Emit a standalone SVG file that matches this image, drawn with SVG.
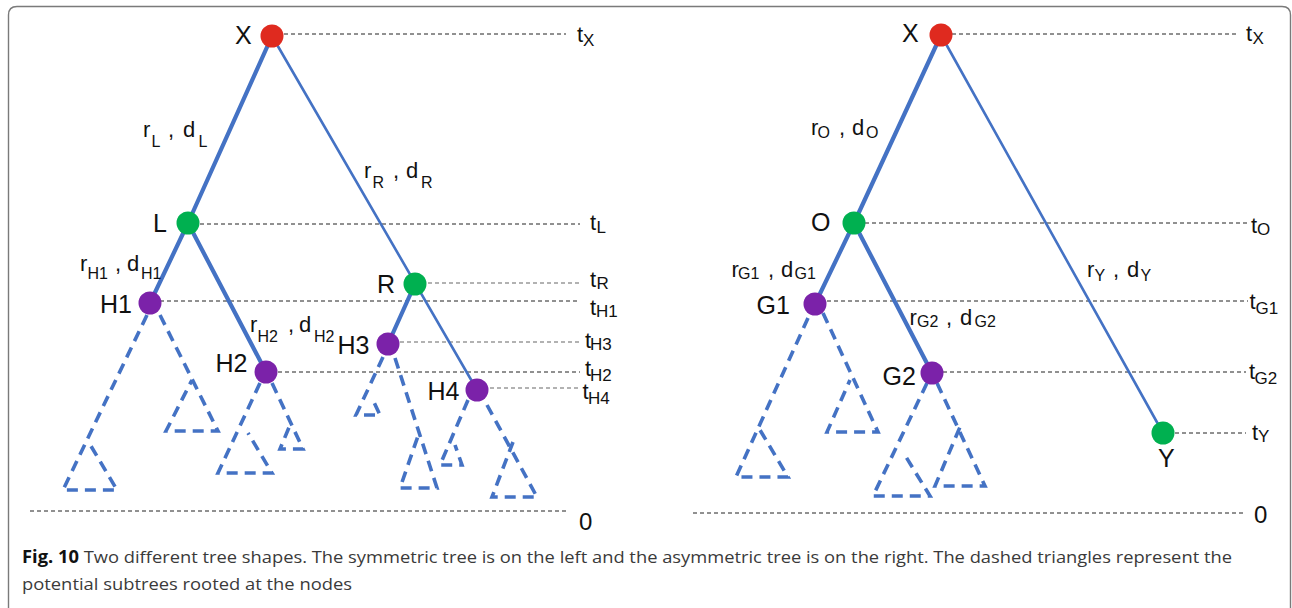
<svg xmlns="http://www.w3.org/2000/svg" width="1292" height="608" viewBox="0 0 1292 608">
<style>
.frame{fill:none;stroke:#7a7a7a;stroke-width:1.4}
.guide{fill:none;stroke:#222;stroke-width:1;stroke-dasharray:4 3}
.guide2{fill:none;stroke:#666;stroke-width:1.2;stroke-dasharray:4 3}
.thick{stroke:#4472C4;stroke-width:4.2;fill:none;stroke-linecap:round}
.thin{stroke:#4472C4;stroke-width:2.6;fill:none;stroke-linecap:round}
.tri{stroke:#4472C4;stroke-width:3.6;fill:none;stroke-dasharray:11 7}
.red{fill:#DF2A1F}
.green{fill:#00B050}
.purple{fill:#7B22A9}
.n{font-family:"Liberation Sans",Arial,sans-serif;font-size:25px;fill:#111}
.e{font-family:"Liberation Sans",Arial,sans-serif;font-size:22px;fill:#111}
.s{font-size:16px}
.t{font-family:"Liberation Sans",Arial,sans-serif;font-size:22px;fill:#111}
.ts{font-size:17px}
.cap{font-family:"Open Sans","Noto Sans",sans-serif;font-size:17px;fill:#3a3a3a}
.capb{font-weight:bold;fill:#111}
</style>
<path class="frame" d="M8.5,612 V15 Q8.5,6.5 17,6.5 H1282 Q1290.5,6.5 1290.5,15 V612"/>

<g id="guides">
<line class="guide" x1="284" y1="34" x2="566" y2="34"/>
<line class="guide" x1="200" y1="224" x2="580" y2="224"/>
<line class="guide2" x1="428" y1="283" x2="580" y2="283"/>
<line class="guide" x1="160" y1="301" x2="578" y2="301"/>
<line class="guide2" x1="400" y1="342" x2="581" y2="342"/>
<line class="guide" x1="278" y1="372" x2="580" y2="372"/>
<line class="guide2" x1="490" y1="388" x2="580" y2="388"/>
<line class="guide" x1="30" y1="511" x2="566" y2="511"/>
<line class="guide" x1="952" y1="34" x2="1237" y2="34"/>
<line class="guide" x1="865" y1="223" x2="1248" y2="223"/>
<line class="guide" x1="827" y1="301" x2="1248" y2="301"/>
<line class="guide" x1="943" y1="372" x2="1246" y2="372"/>
<line class="guide" x1="1175" y1="433" x2="1246" y2="433"/>
<line class="guide" x1="693" y1="513" x2="1243" y2="513"/>
</g>

<g id="guide-labels">
<text class="t"><tspan x="577" y="42">t</tspan><tspan class="ts" x="583" y="46">X</tspan></text>
<text class="t"><tspan x="590" y="230">t</tspan><tspan class="ts" x="596.5" y="233">L</tspan></text>
<text class="t"><tspan x="590" y="286.5">t</tspan><tspan class="ts" x="596.5" y="288.5">R</tspan></text>
<text class="t"><tspan x="590" y="315">t</tspan><tspan class="ts" x="596" y="317">H1</tspan></text>
<text class="t"><tspan x="585" y="348">t</tspan><tspan class="ts" x="590" y="350">H3</tspan></text>
<text class="t"><tspan x="585" y="376">t</tspan><tspan class="ts" x="590" y="380.5">H2</tspan></text>
<text class="t"><tspan x="582.5" y="399">t</tspan><tspan class="ts" x="588" y="404">H4</tspan></text>
<text class="t" x="579" y="530" style="font-size:24px">0</text>
<text class="t"><tspan x="1246" y="40.5">t</tspan><tspan class="ts" x="1252.5" y="44">X</tspan></text>
<text class="t"><tspan x="1251" y="232.5">t</tspan><tspan class="ts" x="1257" y="234.5">O</tspan></text>
<text class="t"><tspan x="1249.5" y="308.5">t</tspan><tspan class="ts" x="1255.5" y="313.5">G1</tspan></text>
<text class="t"><tspan x="1249" y="379">t</tspan><tspan class="ts" x="1254.5" y="384">G2</tspan></text>
<text class="t"><tspan x="1252" y="440">t</tspan><tspan class="ts" x="1258" y="442">Y</tspan></text>
<text class="t" x="1254" y="523" style="font-size:24px">0</text>
</g>

<g id="connectors">
<line class="thin" x1="272" y1="36" x2="477" y2="390"/>
<line class="thick" x1="272" y1="36" x2="188" y2="223"/>
<line class="thick" x1="188" y1="223" x2="150" y2="303"/>
<line class="thick" x1="188" y1="223" x2="266" y2="372"/>
<line class="thick" x1="415" y1="284" x2="388" y2="344"/>
<line class="thin" x1="941" y1="35" x2="1163" y2="433"/>
<line class="thick" x1="941" y1="35" x2="854" y2="223"/>
<line class="thick" x1="854" y1="223" x2="815" y2="304"/>
<line class="thick" x1="854" y1="223" x2="932" y2="373"/>
</g>

<g id="subtrees">
<polyline class="tri" points="147,315 63,490 117,490 88,441"/>
<polyline class="tri" points="160,315 218,431 166,431 192,380"/>
<polyline class="tri" points="260,383 218,473 272,473 248,433"/>
<polyline class="tri" points="272,383 303,449 280,449 290,425"/>
<polyline class="tri" points="383,357 356,415 380,415 372,398"/>
<polyline class="tri" points="395,358 437,488 400,488 418,436"/>
<polyline class="tri" points="468,400 440,465 462,465 455,445"/>
<polyline class="tri" points="487,405 537,497 492,497 513,442"/>
<polyline class="tri" points="808,318 736,477 788,477 760,430"/>
<polyline class="tri" points="823,313 878,432 827,432 850,380"/>
<polyline class="tri" points="927,383 873,496 930,496 903,452"/>
<polyline class="tri" points="937,383 985,486 935,486 960,427"/>
</g>

<g id="edge-labels">
<text class="e"><tspan x="143" y="137">r</tspan><tspan class="s" x="151.5" y="146.5">L</tspan><tspan x="168" y="137">,</tspan><tspan x="183" y="137">d</tspan><tspan class="s" x="198.5" y="146.5">L</tspan></text>
<text class="e"><tspan x="364" y="178">r</tspan><tspan class="s" x="372.5" y="188">R</tspan><tspan x="393" y="178">,</tspan><tspan x="406" y="178">d</tspan><tspan class="s" x="421" y="188">R</tspan></text>
<text class="e"><tspan x="80" y="270.5">r</tspan><tspan class="s" x="87.5" y="279">H1</tspan><tspan x="115" y="270.5">,</tspan><tspan x="127" y="270.5">d</tspan><tspan class="s" x="141" y="279">H1</tspan></text>
<text class="e"><tspan x="250" y="331.5">r</tspan><tspan class="s" x="257.5" y="341.5">H2</tspan><tspan x="288" y="331.5">,</tspan><tspan x="299" y="331.5">d</tspan><tspan class="s" x="314" y="341.5">H2</tspan></text>
<text class="e"><tspan x="811" y="135">r</tspan><tspan class="s" x="817.5" y="137.5">O</tspan><tspan x="839" y="135">,</tspan><tspan x="852" y="135">d</tspan><tspan class="s" x="866" y="137.5">O</tspan></text>
<text class="e"><tspan x="731.5" y="276.5">r</tspan><tspan class="s" x="738" y="279">G1</tspan><tspan x="768" y="276.5">,</tspan><tspan x="781" y="276.5">d</tspan><tspan class="s" x="794.5" y="279">G1</tspan></text>
<text class="e"><tspan x="909.5" y="325">r</tspan><tspan class="s" x="917" y="327">G2</tspan><tspan x="946" y="325">,</tspan><tspan x="960" y="325">d</tspan><tspan class="s" x="974.5" y="327">G2</tspan></text>
<text class="e"><tspan x="1087" y="276.5">r</tspan><tspan class="s" x="1094.5" y="281">Y</tspan><tspan x="1113" y="276.5">,</tspan><tspan x="1127" y="276.5">d</tspan><tspan class="s" x="1140.5" y="281">Y</tspan></text>
</g>

<g id="node-X-left"><circle class="red" cx="272" cy="36" r="11.5"/><text class="n" x="235" y="44">X</text></g>
<g id="node-L"><circle class="green" cx="188" cy="223" r="11.5"/><text class="n" x="153" y="232">L</text></g>
<g id="node-R"><circle class="green" cx="415" cy="284" r="11.5"/><text class="n" x="377" y="293">R</text></g>
<g id="node-H1"><circle class="purple" cx="150" cy="303" r="11.5"/><text class="n" x="100" y="313">H1</text></g>
<g id="node-H2"><circle class="purple" cx="266" cy="372" r="11.5"/><text class="n" x="215.5" y="372">H2</text></g>
<g id="node-H3"><circle class="purple" cx="388" cy="344" r="11.5"/><text class="n" x="337.5" y="354">H3</text></g>
<g id="node-H4"><circle class="purple" cx="477" cy="390" r="11.5"/><text class="n" x="427.5" y="400">H4</text></g>

<g id="node-X-right"><circle class="red" cx="941" cy="35" r="11.5"/><text class="n" x="902" y="42">X</text></g>
<g id="node-O"><circle class="green" cx="854" cy="223" r="11.5"/><text class="n" x="811" y="231">O</text></g>
<g id="node-G1"><circle class="purple" cx="815" cy="304" r="11.5"/><text class="n" x="756.5" y="314">G1</text></g>
<g id="node-G2"><circle class="purple" cx="932" cy="373" r="11.5"/><text class="n" x="882.5" y="385">G2</text></g>
<g id="node-Y"><circle class="green" cx="1163" cy="433" r="11.5"/><text class="n" x="1158" y="467">Y</text></g>

<g id="caption">
<text class="cap" x="22" y="563" textLength="1210" lengthAdjust="spacingAndGlyphs"><tspan class="capb">Fig. 10</tspan> Two different tree shapes. The symmetric tree is on the left and the asymmetric tree is on the right. The dashed triangles represent the</text>
<text class="cap" x="22" y="590" textLength="330" lengthAdjust="spacingAndGlyphs">potential subtrees rooted at the nodes</text>
</g>
</svg>
